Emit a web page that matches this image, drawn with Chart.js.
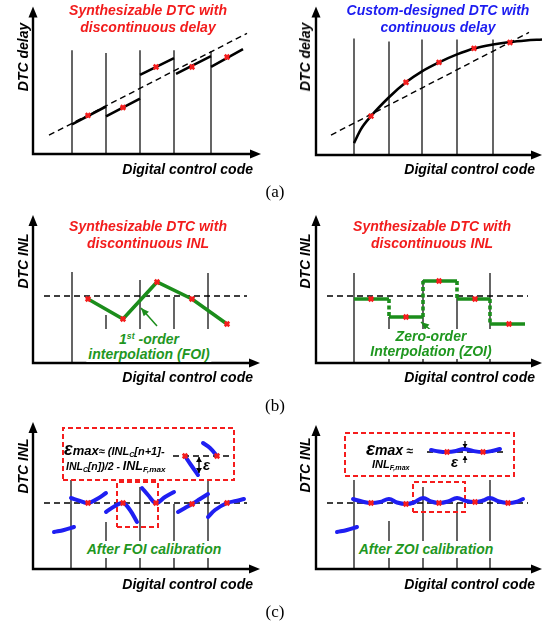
<!DOCTYPE html>
<html>
<head>
<meta charset="utf-8">
<script src="https://cdn.jsdelivr.net/npm/chart.js@4.4.1/dist/chart.umd.min.js"></script>
<style>
  body { margin: 0; background: #fff; }
  #fig { position: relative; width: 551px; height: 624px; overflow: hidden;
         font-family: "Liberation Sans", Arial, sans-serif; }
  canvas { position: absolute; }
  .t { position: absolute; font-weight: bold; font-style: italic; font-size: 14px;
       line-height: 17px; white-space: nowrap; color: #000; }
  .mid { transform: translateX(-50%); text-align: center; }
  .xl { transform: translateX(-100%); }
  .yl { line-height: 14px; transform: translate(-50%, -50%) rotate(-90deg); }
  .red { color: #f21c1c; }
  .blue { color: #1c1cf0; }
  .green { color: #1f971f; }
  .bg { background: #fff; padding: 0 2px; }
  .sb { font-size: 0.65em; vertical-align: -0.25em; }
  .sp { font-size: 0.62em; vertical-align: 0.55em; }
  .cap { position: absolute; font-family: "Liberation Serif", "Times New Roman", serif;
         font-size: 17px; line-height: 17px; transform: translateX(-50%); }
</style>
</head>
<body>
<div id="fig">
  <canvas id="aL" width="275" height="185" style="left:0;top:0"></canvas>
  <canvas id="aR" width="276" height="185" style="left:275px;top:0"></canvas>
  <canvas id="bL" width="275" height="165" style="left:0;top:208px"></canvas>
  <canvas id="bR" width="276" height="165" style="left:275px;top:208px"></canvas>
  <canvas id="cL" width="275" height="165" style="left:0;top:415px"></canvas>
  <canvas id="cR" width="276" height="165" style="left:275px;top:415px"></canvas>

  <!-- (a) -->
  <div class="t mid red" style="left:148px;top:2px">Synthesizable DTC with<br>discontinuous delay</div>
  <div class="t mid blue" style="left:438px;top:2px">Custom-designed DTC with<br>continuous delay</div>
  <div class="t yl" style="left:23px;top:57px">DTC delay</div>
  <div class="t yl" style="left:305px;top:57px">DTC delay</div>
  <div class="t xl" style="left:253px;top:161px">Digital control code</div>
  <div class="t xl" style="left:535px;top:161px">Digital control code</div>
  <div class="cap" style="left:275px;top:183px">(a)</div>

  <!-- (b) -->
  <div class="t mid red" style="left:148px;top:218px">Synthesizable DTC with<br>discontinuous INL</div>
  <div class="t mid red" style="left:432px;top:218px">Synthesizable DTC with<br>discontinuous INL</div>
  <div class="t yl" style="left:23px;top:261px">DTC INL</div>
  <div class="t yl" style="left:305px;top:261px">DTC INL</div>
  <div class="t mid green bg" style="left:149px;top:329px;line-height:15px">1<span class="sp">st</span> -order<br>interpolation (FOI)</div>
  <div class="t mid green bg" style="left:431px;top:329px;line-height:15px">Zero-order<br>Interpolation (ZOI)</div>
  <div class="t xl" style="left:253px;top:369px">Digital control code</div>
  <div class="t xl" style="left:535px;top:369px">Digital control code</div>
  <div class="cap" style="left:275px;top:397px">(b)</div>

  <!-- (c) -->
  <div class="t yl" style="left:23px;top:466px">DTC INL</div>
  <div class="t yl" style="left:305px;top:465px">DTC INL</div>
  <div class="t" style="left:64px;top:441px"><span style="font-size:18px">ε</span><span style="font-size:13px">max</span><span style="font-size:11px">≈ (INL<span class="sb">C</span>[n+1]-</span></div>
  <div class="t" style="left:66px;top:457px"><span style="font-size:10.5px">INL<span class="sb">C</span>[n])/2 - </span><span style="font-size:12.5px">INL<span class="sb">F,max</span></span></div>
  <div class="t" style="left:203px;top:456px;font-size:15px">ε</div>
  <div class="t" style="left:366px;top:440px"><span style="font-size:19px">ε</span><span style="font-size:14px">max</span><span style="font-size:12px"> ≈</span></div>
  <div class="t" style="left:372px;top:456px;font-size:11px">INL<span class="sb">F,max</span></div>
  <div class="t" style="left:451px;top:453px;font-size:15px">ε</div>
  <div class="t mid green bg" style="left:154px;top:541px">After FOI calibration</div>
  <div class="t mid green bg" style="left:426px;top:541px">After ZOI calibration</div>
  <div class="t xl" style="left:253px;top:576px">Digital control code</div>
  <div class="t xl" style="left:535px;top:576px">Digital control code</div>
  <div class="cap" style="left:275px;top:603px">(c)</div>
</div>

<script>
// values, in sketch units (code on x, delay / INL on y)

// (a) left: synthesizable DTC, discontinuous delay
const synthEdges = [3.9, 7.3, 10.7, 14.1, 17.8];
const synthEdgeTops = [10.5, 10.2, 10.5, 10.5, 10.4];
const synthSegments = [
  [[3.9, 3.0], [7.3, 4.8]],
  [[7.3, 3.8], [10.7, 5.6]],
  [[10.7, 8.0], [14.1, 9.7]],
  [[14.3, 8.1], [17.8, 9.9]],
  [[17.8, 8.8], [21.0, 10.6]],
];
const synthSamples = [[5.5, 3.9], [9.0, 4.7], [12.3, 8.8], [15.9, 8.8], [19.4, 9.8]];
const synthFit = [[1.6, 1.9], [21.4, 12.2]];

// (a) right: custom DTC, continuous delay
const customEdges = [3.8, 7.3, 10.6, 14.1, 17.7];
const customEdgeTops = [11.7, 11.4, 11.6, 11.6, 11.6];
const customCurve = [[3.8, 1.2], [4.5, 2.6], [5.5, 3.9], [7.3, 5.8], [9.0, 7.3], [10.6, 8.4],
  [12.3, 9.3], [14.1, 10.1], [15.8, 10.7], [17.7, 11.1], [19.4, 11.35], [21.0, 11.5], [22.6, 11.6]];
const customSamples = [[5.5, 3.9], [9.0, 7.3], [12.3, 9.3], [15.8, 10.7], [19.4, 11.3]];
const customFit = [[1.5, 2.0], [21.3, 12.3]];

// (b) left: first-order interpolation
const foiEdges = [3.9, 7.3, 10.7, 14.1, 17.5];
const foiEdgeTops = [9.1, 4.8, 8.3, 6.6, 9.0];
const foiSamples = [[5.5, 6.4], [9.0, 4.4], [12.4, 8.1], [15.9, 6.4], [19.4, 3.9]];
const foiZero = [[1.1, 6.7], [21.4, 6.7]];
const foiPointer = [[12.4, 3.7], [10.8, 5.5]];

// (b) right: zero-order interpolation
const zoiEdges = [3.8, 7.3, 10.7, 14.1, 17.4];
const zoiEdgeTops = [9.0, 4.6, 8.3, 6.6, 9.0];
const zoiLevels = [6.4, 4.6, 8.2, 6.4, 3.9];
const zoiLastCode = 20.9;
const zoiSampleCodes = [5.5, 9.0, 12.3, 15.9, 19.3];
const zoiZero = [[1.1, 6.7], [21.2, 6.7]];
const zoiPointer = [[11.7, 3.1], [10.5, 4.1]];

// (c) left: residual INL after FOI calibration
const foiCalEdges = [3.8, 7.3, 10.7, 14.1, 17.5];
const foiCalEdgeTops = [8.9, 4.7, 8.2, 6.5, 8.9];
const foiResidual = [
  [[2.1, 3.7], [3.1, 3.9], [4.1, 4.2]],
  [[3.8, 7.1], [4.7, 6.8], [5.5, 6.6], [6.4, 7.0], [7.3, 7.6]],
  [[7.3, 5.7], [8.2, 6.3], [9.0, 6.6], [9.7, 5.9], [10.4, 4.7]],
  [[10.9, 8.1], [11.5, 7.4], [12.3, 6.6], [13.2, 7.2], [14.1, 7.7]],
  [[14.5, 5.7], [15.2, 6.1], [15.9, 6.5], [16.7, 7.0], [17.5, 7.5]],
  [[17.5, 5.2], [18.2, 5.9], [19.4, 6.6], [20.3, 6.8], [21.1, 7.0]],
];
const foiCalMarks = [[5.5, 6.6], [9.0, 6.6], [12.3, 6.6], [15.9, 6.5], [19.4, 6.6]];
const foiCalZero = [[1.1, 6.6], [21.4, 6.6]];
const foiZoomBox = [8.4, 12.5, 4.2, 8.7];
const foiNoteBox = [3.0, 20.1, 8.9, 14.1];
const foiInsetZero = [[14.0, 11.3], [19.7, 11.3]];
const foiInsetCurves = [
  [[17.0, 12.6], [17.7, 12.1], [18.4, 11.3]],
  [[15.2, 11.3], [15.8, 10.4], [16.5, 9.4]],
];
const foiInsetMarks = [[15.2, 11.3], [18.4, 11.3]];
const foiEps = [[16.6, 11.2], [16.6, 9.6]];

// (c) right: residual INL after ZOI calibration
const zoiCalEdges = [3.8, 7.3, 10.7, 14.1, 17.4];
const zoiCalEdgeTops = [8.9, 4.8, 8.2, 6.6, 8.9];
const zoiResidual = [
  [[2.1, 3.7], [3.1, 3.9], [4.1, 4.2]],
  [[3.7, 7.0], [4.6, 6.75], [5.5, 6.6], [6.4, 6.7], [7.3, 7.0], [8.1, 6.65], [9.0, 6.5],
   [9.8, 6.65], [10.7, 7.1], [11.5, 6.75], [12.3, 6.6], [13.2, 6.75], [14.1, 7.1], [15.0, 6.8],
   [15.9, 6.7], [16.7, 6.85], [17.4, 7.1], [18.3, 6.75], [19.2, 6.6], [20.0, 6.7], [20.7, 7.0]],
];
const zoiCalMarks = [[5.5, 6.6], [9.0, 6.5], [12.3, 6.6], [15.9, 6.7], [19.2, 6.6]];
const zoiCalZero = [[1.1, 6.6], [21.2, 6.6]];
const zoiZoomBox = [9.7, 14.9, 5.7, 8.7];
const zoiNoteBox = [2.9, 19.8, 9.3, 13.6];
const zoiInsetZero = [[11.1, 11.7], [18.8, 11.7]];
const zoiInsetCurve = [[11.5, 11.9], [12.3, 11.75], [13.1, 11.7], [14.0, 11.8], [14.8, 12.0],
  [15.7, 11.8], [16.7, 11.7], [17.6, 11.8], [18.4, 12.0]];
const zoiInsetMarks = [[13.1, 11.7], [16.7, 11.7]];
const zoiEpsDown = [[14.9, 12.8], [14.9, 12.1]];
const zoiEpsUp = [[14.9, 10.6], [14.9, 11.3]];

const RED = '#f51d1d';
const BLUE = '#1f1ff2';
const GREEN = '#1b8d1b';

const path = pts => pts.map(([x, y]) => ({ x, y }));
function pieces(list) {
  const out = [];
  list.forEach((pts, i) => {
    if (i) out.push({ x: pts[0][0], y: null });
    pts.forEach(([x, y]) => out.push({ x, y }));
  });
  return out;
}
const boxPath = ([x0, x1, y0, y1]) => path([[x0, y0], [x1, y0], [x1, y1], [x0, y1], [x0, y0]]);
const edgeLines = (xs, tops) => pieces(xs.map((x, i) => [[x, 0], [x, tops[i]]]));

const line = (data, color, width, extra = {}) => ({
  data, borderColor: color, borderWidth: width, pointRadius: 0, fill: false,
  tension: 0, spanGaps: false, clip: false, ...extra,
});
const marks = pts => ({
  data: path(pts), showLine: false, pointStyle: 'crossRot', pointRadius: 3.2,
  pointBorderWidth: 2.6, pointBorderColor: RED, pointBackgroundColor: RED, clip: false,
});
const dashed = pts => line(path(pts), '#000', 1.4, { borderDash: [6, 4] });
const edges = (xs, tops) => line(edgeLines(xs, tops), '#000', 1.2);
const redBox = b => line(boxPath(b), RED, 2, { borderDash: [5, 3] });
const blue = list => line(pieces(list), BLUE, 4, { tension: 0.4, borderCapStyle: 'round' });

function head(ctx, x0, y0, x1, y1, len, half) {
  const a = Math.atan2(y1 - y0, x1 - x0);
  const bx = x1 - len * Math.cos(a), by = y1 - len * Math.sin(a);
  ctx.beginPath();
  ctx.moveTo(x1, y1);
  ctx.lineTo(bx + half * Math.sin(a), by - half * Math.cos(a));
  ctx.lineTo(bx - half * Math.sin(a), by + half * Math.cos(a));
  ctx.closePath();
  ctx.fill();
}

function sketch(arrows) {
  return {
    id: 'sketch',
    afterDatasetsDraw(chart) {
      const { ctx, chartArea: a, scales } = chart;
      ctx.save();
      ctx.strokeStyle = '#000';
      ctx.fillStyle = '#000';
      ctx.lineWidth = 2.4;
      ctx.beginPath();
      ctx.moveTo(a.left, a.top + 8);
      ctx.lineTo(a.left, a.bottom);
      ctx.lineTo(a.right - 8, a.bottom);
      ctx.stroke();
      head(ctx, a.left, a.bottom, a.left, a.top, 11, 4.5);
      head(ctx, a.left, a.bottom, a.right, a.bottom, 11, 4.5);
      arrows.forEach(ar => {
        const x0 = scales.x.getPixelForValue(ar.pts[0][0]), y0 = scales.y.getPixelForValue(ar.pts[0][1]);
        const x1 = scales.x.getPixelForValue(ar.pts[1][0]), y1 = scales.y.getPixelForValue(ar.pts[1][1]);
        ctx.strokeStyle = ar.color;
        ctx.fillStyle = ar.color;
        ctx.lineWidth = ar.width;
        ctx.beginPath();
        ctx.moveTo(x0, y0);
        ctx.lineTo(x1, y1);
        ctx.stroke();
        head(ctx, x0, y0, x1, y1, ar.len, ar.half);
        if (ar.both) head(ctx, x1, y1, x0, y0, ar.len, ar.half);
      });
      ctx.restore();
    },
  };
}

// canvas frame (page px) -> origin of axes and arrow tips
const frames = {
  aL: { left: 0, top: 0, w: 275, h: 185, ox: 33, oy: 154, tx: 261, ty: 5 },
  aR: { left: 275, top: 0, w: 276, h: 185, ox: 316, oy: 155, tx: 542, ty: 6 },
  bL: { left: 0, top: 208, w: 275, h: 165, ox: 33, oy: 363, tx: 260, ty: 215 },
  bR: { left: 275, top: 208, w: 276, h: 165, ox: 316, oy: 363, tx: 542, ty: 215 },
  cL: { left: 0, top: 415, w: 275, h: 165, ox: 33, oy: 569, tx: 260, ty: 422 },
  cR: { left: 275, top: 415, w: 276, h: 165, ox: 316, oy: 569, tx: 542, ty: 425 },
};

function panel(id, datasets, arrows = []) {
  const f = frames[id];
  new Chart(document.getElementById(id), {
    type: 'line',
    data: { datasets },
    options: {
      responsive: false,
      animation: false,
      events: [],
      layout: {
        padding: { left: f.ox - f.left, top: f.ty - f.top, right: f.left + f.w - f.tx, bottom: f.top + f.h - f.oy },
      },
      scales: {
        x: { type: 'linear', display: false, min: 0, max: (f.tx - f.ox) / 10 },
        y: { type: 'linear', display: false, min: 0, max: (f.oy - f.ty) / 10 },
      },
      plugins: { legend: { display: false }, tooltip: { enabled: false } },
    },
    plugins: [sketch(arrows)],
  });
}

panel('aL', [
  marks(synthSamples),
  line(pieces(synthSegments), '#000', 2.6),
  dashed(synthFit),
  edges(synthEdges, synthEdgeTops),
]);

panel('aR', [
  marks(customSamples),
  line(path(customCurve), '#000', 2.6, { cubicInterpolationMode: 'monotone' }),
  dashed(customFit),
  edges(customEdges, customEdgeTops),
]);

panel('bL', [
  marks(foiSamples),
  line(path(foiSamples), GREEN, 3.6),
  dashed(foiZero),
  edges(foiEdges, foiEdgeTops),
], [{ pts: foiPointer, color: GREEN, width: 1.5, len: 8, half: 3.5 }]);

const zoiFlat = zoiLevels.map((y, i) => [[zoiEdges[i], y], [i < zoiEdges.length - 1 ? zoiEdges[i + 1] : zoiLastCode, y]]);
const zoiRise = zoiLevels.slice(1).map((y, i) => [[zoiEdges[i + 1], zoiLevels[i]], [zoiEdges[i + 1], y]]);
panel('bR', [
  marks(zoiSampleCodes.map((x, i) => [x, zoiLevels[i]])),
  line(pieces(zoiFlat), GREEN, 3.6),
  line(pieces(zoiRise), GREEN, 3.6, { borderDash: [4, 2.5] }),
  dashed(zoiZero),
  edges(zoiEdges, zoiEdgeTops),
], [{ pts: zoiPointer, color: GREEN, width: 1.5, len: 8, half: 3.5 }]);

panel('cL', [
  marks(foiCalMarks),
  marks(foiInsetMarks),
  blue(foiResidual),
  blue(foiInsetCurves),
  redBox(foiZoomBox),
  redBox(foiNoteBox),
  dashed(foiCalZero),
  dashed(foiInsetZero),
  edges(foiCalEdges, foiCalEdgeTops),
], [{ pts: foiEps, color: '#000', width: 1.3, len: 5, half: 3, both: true }]);

panel('cR', [
  marks(zoiCalMarks),
  marks(zoiInsetMarks),
  blue(zoiResidual),
  line(path(zoiInsetCurve), BLUE, 4, { tension: 0.4, borderCapStyle: 'round' }),
  redBox(zoiZoomBox),
  redBox(zoiNoteBox),
  dashed(zoiCalZero),
  dashed(zoiInsetZero),
  edges(zoiCalEdges, zoiCalEdgeTops),
], [
  { pts: zoiEpsDown, color: '#000', width: 1.2, len: 4, half: 2.5 },
  { pts: zoiEpsUp, color: '#000', width: 1.2, len: 4, half: 2.5 },
]);
</script>
</body>
</html>
